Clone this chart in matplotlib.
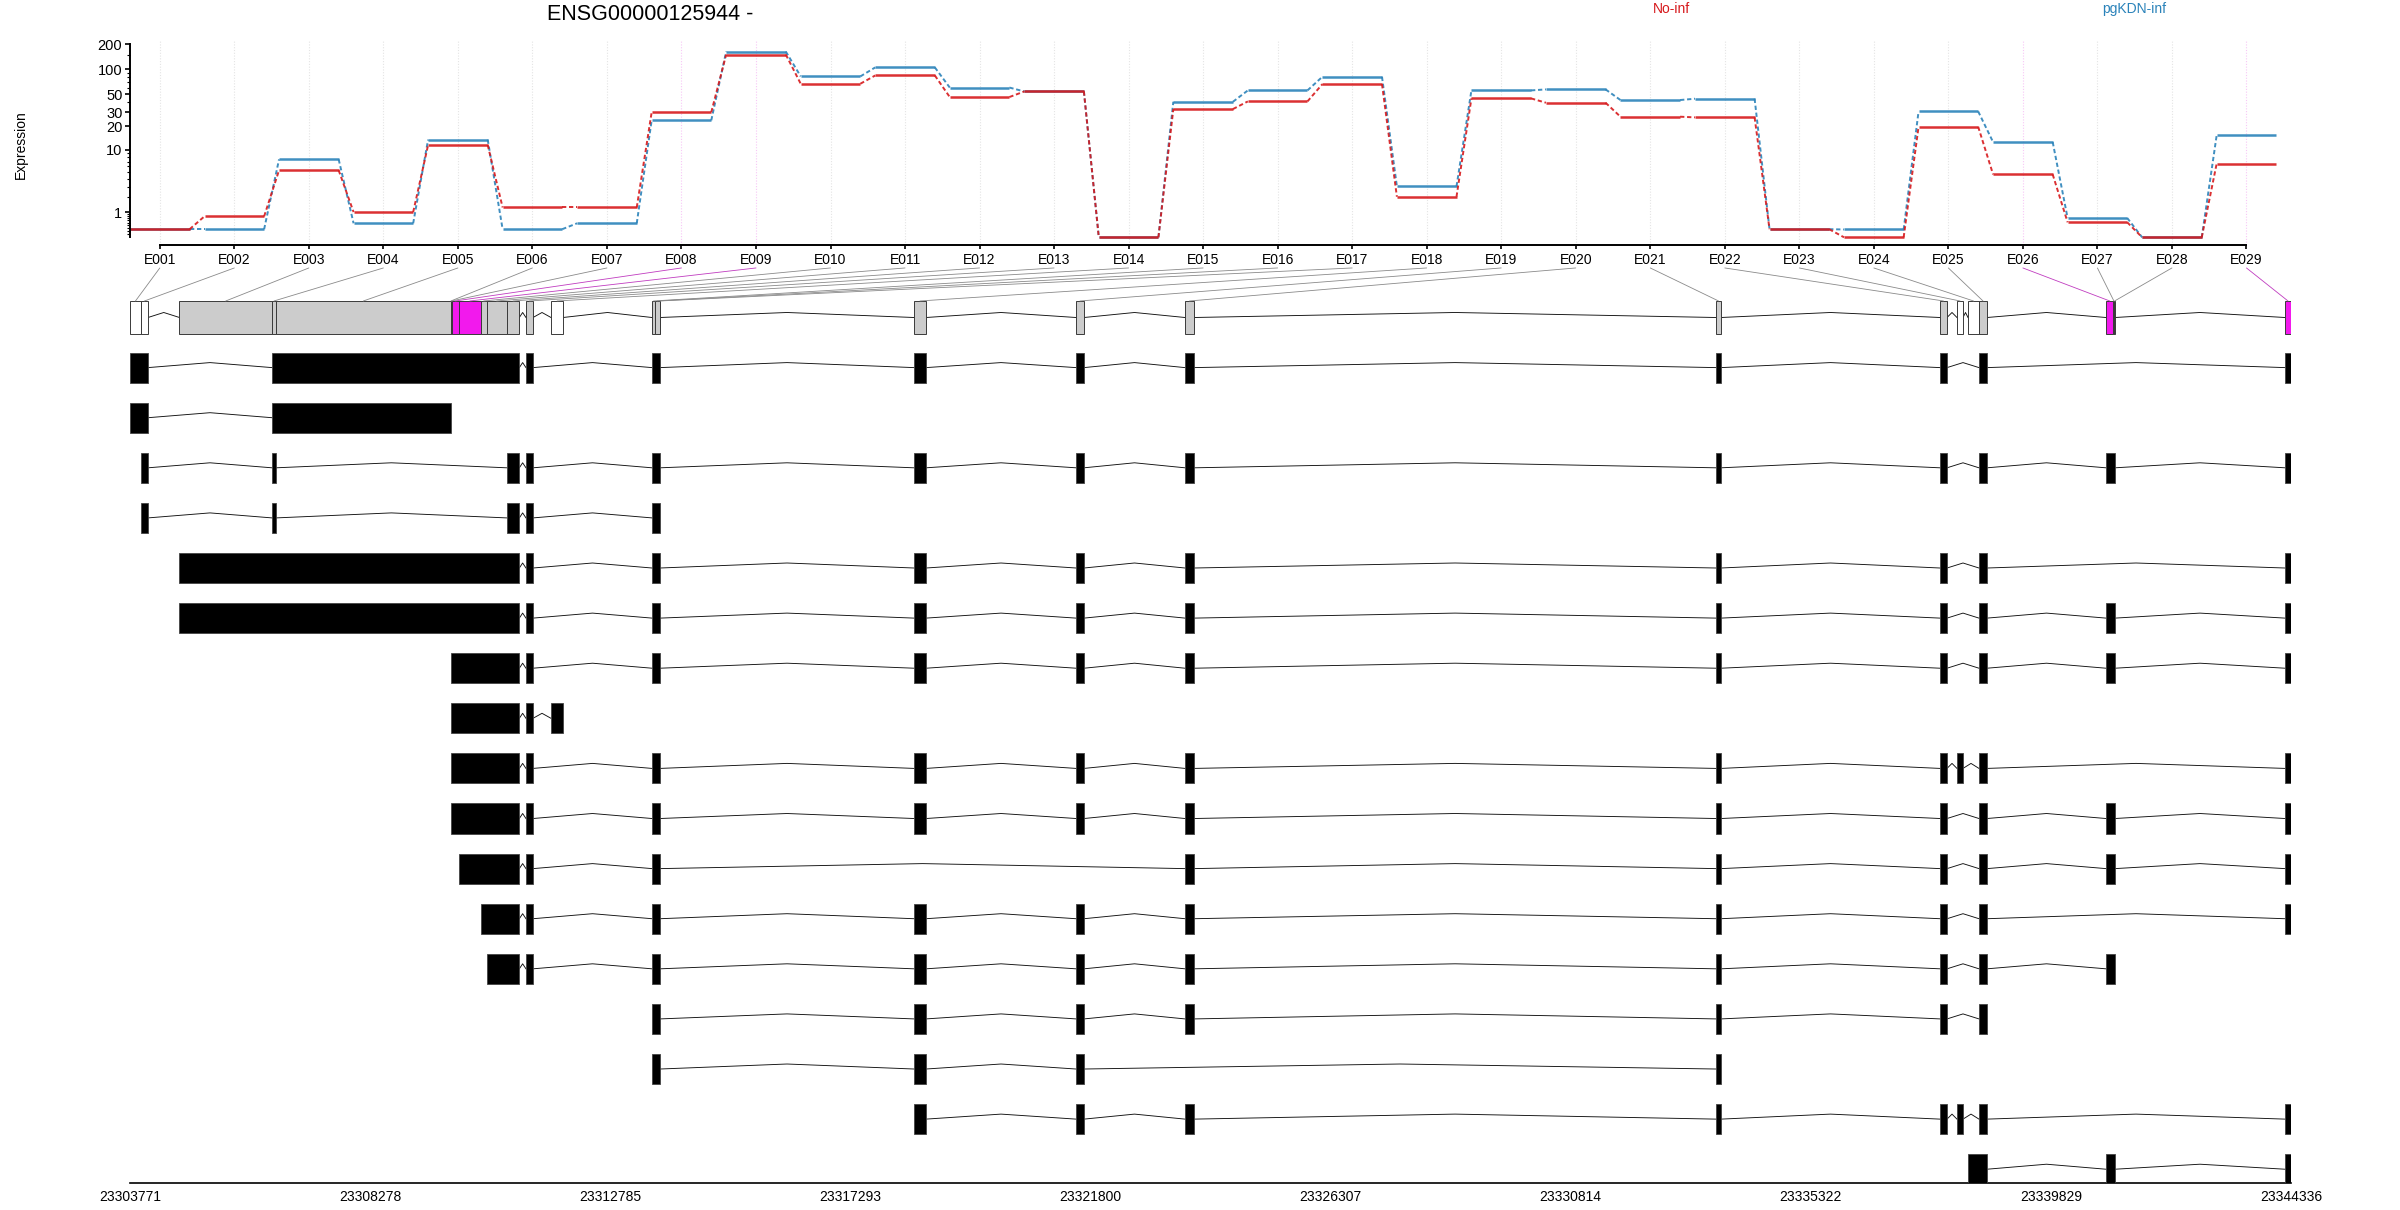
import numpy as np
import matplotlib
matplotlib.use('Agg')
import matplotlib.pyplot as plt
from matplotlib.patches import Rectangle, ConnectionPatch
from matplotlib.transforms import blended_transform_factory

plt.rcParams['font.family'] = ['Liberation Sans', 'DejaVu Sans']

# --- data -------------------------------------------------------------
gene_title = 'ENSG00000125944 -'
conditions = ['No-inf', 'pgKDN-inf']
cond_colors = ['#D7191C', '#2B83BA']

exon_ids = ['E%03d' % i for i in range(1, 30)]

expr_noinf = [0.25, 0.78, 5.3, 1.0, 11.6, 1.27, 1.27, 30, 150, 66.7,
              84, 46, 53.8, 0, 32.8, 40.7, 66, 2.05, 44.3, 39.2,
              26.4, 25.9, 0.25, 0, 19.8, 4.62, 0.51, 0, 6.54]
expr_pgkdn = [0.25, 0.25, 7.5, 0.47, 13.6, 0.25, 0.47, 23.8, 163, 81.8,
              105, 60, 53.8, 0, 40.3, 55.4, 81, 3.05, 55.4, 57,
              42.3, 43.9, 0.25, 0.24, 30.7, 12.65, 0.70, 0, 15.4]

# exon bins (genomic start / end)
bin_start = [23303771, 23303977, 23304700, 23306437, 23306512, 23309791, 23309800,
             23309810, 23309947, 23310354, 23310467, 23310842, 23311204, 23311674,
             23313570, 23313626, 23313711, 23318488, 23321529, 23323575, 23333543,
             23337747, 23338066, 23338273, 23338479, 23340863, 23341004, 23341019,
             23344223]
bin_end = [23303977, 23304109, 23306437, 23306512, 23309791, 23309800, 23309810,
           23309947, 23310354, 23310467, 23310842, 23311079, 23311336, 23311899,
           23313626, 23313711, 23313720, 23318713, 23321679, 23323744, 23333636,
           23337879, 23338179, 23338479, 23338630, 23341004, 23341019, 23341032,
           23344336]

significant = ['E008', 'E009', 'E026', 'E029']
untested = ['E001', 'E002', 'E014', 'E023', 'E024']

# transcripts: runs of exon bins (first, last), 1-based
transcripts = [
    [(1, 2), (4, 12), (13, 13), (15, 17), (18, 18), (19, 19), (20, 20), (21, 21), (22, 22), (25, 25), (29, 29)],
    [(1, 2), (4, 6)],
    [(2, 2), (4, 4), (12, 12), (13, 13), (15, 17), (18, 18), (19, 19), (20, 20), (21, 21), (22, 22), (25, 25), (26, 28), (29, 29)],
    [(2, 2), (4, 4), (12, 12), (13, 13), (15, 17)],
    [(3, 12), (13, 13), (15, 17), (18, 18), (19, 19), (20, 20), (21, 21), (22, 22), (25, 25), (29, 29)],
    [(3, 12), (13, 13), (15, 17), (18, 18), (19, 19), (20, 20), (21, 21), (22, 22), (25, 25), (26, 28), (29, 29)],
    [(6, 12), (13, 13), (15, 17), (18, 18), (19, 19), (20, 20), (21, 21), (22, 22), (25, 25), (26, 28), (29, 29)],
    [(6, 12), (13, 13), (14, 14)],
    [(6, 12), (13, 13), (15, 17), (18, 18), (19, 19), (20, 20), (21, 21), (22, 22), (23, 23), (25, 25), (29, 29)],
    [(6, 12), (13, 13), (15, 17), (18, 18), (19, 19), (20, 20), (21, 21), (22, 22), (25, 25), (26, 28), (29, 29)],
    [(9, 12), (13, 13), (15, 17), (20, 20), (21, 21), (22, 22), (25, 25), (26, 28), (29, 29)],
    [(10, 12), (13, 13), (15, 17), (18, 18), (19, 19), (20, 20), (21, 21), (22, 22), (25, 25), (29, 29)],
    [(11, 12), (13, 13), (15, 17), (18, 18), (19, 19), (20, 20), (21, 21), (22, 22), (25, 25), (26, 28)],
    [(15, 17), (18, 18), (19, 19), (20, 20), (21, 21), (22, 22), (25, 25)],
    [(15, 17), (18, 18), (19, 19), (21, 21)],
    [(18, 18), (19, 19), (20, 20), (21, 21), (22, 22), (23, 23), (25, 25), (29, 29)],
    [(24, 25), (26, 28), (29, 29)],
]

SIG_COL = '#F219ED'
SIG_LINE = '#C03CC0'
W, H = 2400, 1210

fig = plt.figure(figsize=(W / 100, H / 100), dpi=100)


def px_rect(left, top, right, bottom):
    return [left / W, 1 - bottom / H, (right - left) / W, (bottom - top) / H]


# --- expression panel -------------------------------------------------
ax = fig.add_axes(px_rect(130, 40, 2280, 245))
ax.set_yscale('function', functions=(lambda v: np.log10(np.clip(v, -0.99, None) + 1),
                                     lambda f: 10 ** f - 1))
ax.set_xlim(0.6, 29.45)
ax.set_ylim(-0.19, 224)

xs = np.arange(1, len(exon_ids) + 1)
for x, eid in zip(xs, exon_ids):
    gc = '#F7C8F6' if eid in significant else '#E4E4E4'
    ax.vlines(x, -0.19, 224, color=gc, lw=0.8, ls=(0, (1, 1.5)), zorder=0)

for vals, col in [(expr_pgkdn, cond_colors[1]), (expr_noinf, cond_colors[0])]:
    for x, v in zip(xs, vals):
        ax.plot([x - 0.4, x + 0.4], [v, v], color=col, lw=1.8, alpha=0.9,
                solid_capstyle='butt')
    for k in range(len(vals) - 1):
        ax.plot([xs[k] + 0.4, xs[k] + 0.6], [vals[k], vals[k + 1]], color=col,
                lw=1.4, alpha=0.9, ls=(0, (2.2, 1.4)))

for s in ['top', 'right']:
    ax.spines[s].set_visible(False)
ax.spines['left'].set_bounds(0, 200)
ax.spines['bottom'].set_bounds(1, 29)
ax.spines['left'].set_linewidth(1.4)
ax.spines['bottom'].set_linewidth(1.4)
ax.set_xticks(xs)
ax.set_xticklabels(exon_ids, fontsize=10)
ax.tick_params(axis='x', length=3, width=1.2, pad=2.5)
ax.set_yticks([1, 10, 20, 30, 50, 100, 200])
ax.set_yticklabels(['1', '10', '20', '30', '50', '100', '200'], fontsize=10.5)
minor = list(np.arange(0.1, 1.0, 0.1)) + list(range(2, 10)) + list(range(20, 100, 10)) + [150]
ax.set_yticks(minor, minor=True)
ax.yaxis.set_minor_formatter(plt.NullFormatter())
ax.tick_params(axis='y', which='major', length=3.5, width=1.2, pad=2)
ax.tick_params(axis='y', which='minor', length=2, width=0.8)
ax.patch.set_visible(False)

fig.text(650 / W, 1 - 15 / H, gene_title, ha='center', va='center', fontsize=15.5)
fig.text(1672 / W, 1 - 9 / H, conditions[0], ha='center', va='center',
         fontsize=10, color=cond_colors[0])
fig.text(2134 / W, 1 - 9 / H, conditions[1], ha='center', va='center',
         fontsize=10, color=cond_colors[1])
fig.text(21 / W, 1 - 145 / H, 'Expression', ha='center', va='center',
         rotation=90, fontsize=10)

# --- gene model + transcripts ----------------------------------------
gx = fig.add_axes(px_rect(130, 290, 2291, 1183))
g0, g1 = bin_start[0], bin_end[-1]
gx.set_xlim(g0, g1)
gx.set_ylim(17.275, -0.549)
for s in ['top', 'right', 'left']:
    gx.spines[s].set_visible(False)
gx.spines['bottom'].set_linewidth(1.2)
gx.set_yticks([])
gticks = np.round(np.linspace(g0, g1, 10)).astype(int)
gx.set_xticks(gticks)
gx.set_xticklabels([str(t) for t in gticks], fontsize=10)
gx.tick_params(axis='x', length=0, pad=5)
gx.patch.set_visible(False)

PEAK = 0.1


def intron(a, b, y):
    gx.plot([a, (a + b) / 2, b], [y, y - PEAK, y], color='#111111', lw=0.65)


# gene model (row 0)
hh = 0.33
for k, eid in enumerate(exon_ids):
    if eid in significant:
        fc = SIG_COL
    elif eid in untested:
        fc = 'white'
    else:
        fc = '#CCCCCC'
    gx.add_patch(Rectangle((bin_start[k], -hh), bin_end[k] - bin_start[k], 2 * hh,
                           facecolor=fc, edgecolor='#3A3A3A', lw=0.7, zorder=3))
    if k + 1 < len(exon_ids) and bin_start[k + 1] > bin_end[k]:
        intron(bin_end[k], bin_start[k + 1], 0)

# transcripts
th = 0.30
for r, runs in enumerate(transcripts, start=1):
    prev_end = None
    for a, b in runs:
        s, e = bin_start[a - 1], bin_end[b - 1]
        if prev_end is not None:
            intron(prev_end, s, r)
        gx.add_patch(Rectangle((s, r - th), e - s, 2 * th, facecolor='black',
                               edgecolor='#444444', lw=0.6, zorder=3))
        prev_end = e

# connector lines from exon labels to bins
lab_tr = blended_transform_factory(ax.transData, ax.transAxes)
for k, eid in enumerate(exon_ids):
    mid = (bin_start[k] + bin_end[k]) / 2
    col = SIG_LINE if eid in significant else '#8A8A8A'
    con = ConnectionPatch(xyA=(xs[k], -0.112), coordsA=lab_tr,
                          xyB=(mid, -hh), coordsB=gx.transData,
                          color=col, lw=0.6)
    fig.add_artist(con)

fig.savefig('out.png', dpi=100)
